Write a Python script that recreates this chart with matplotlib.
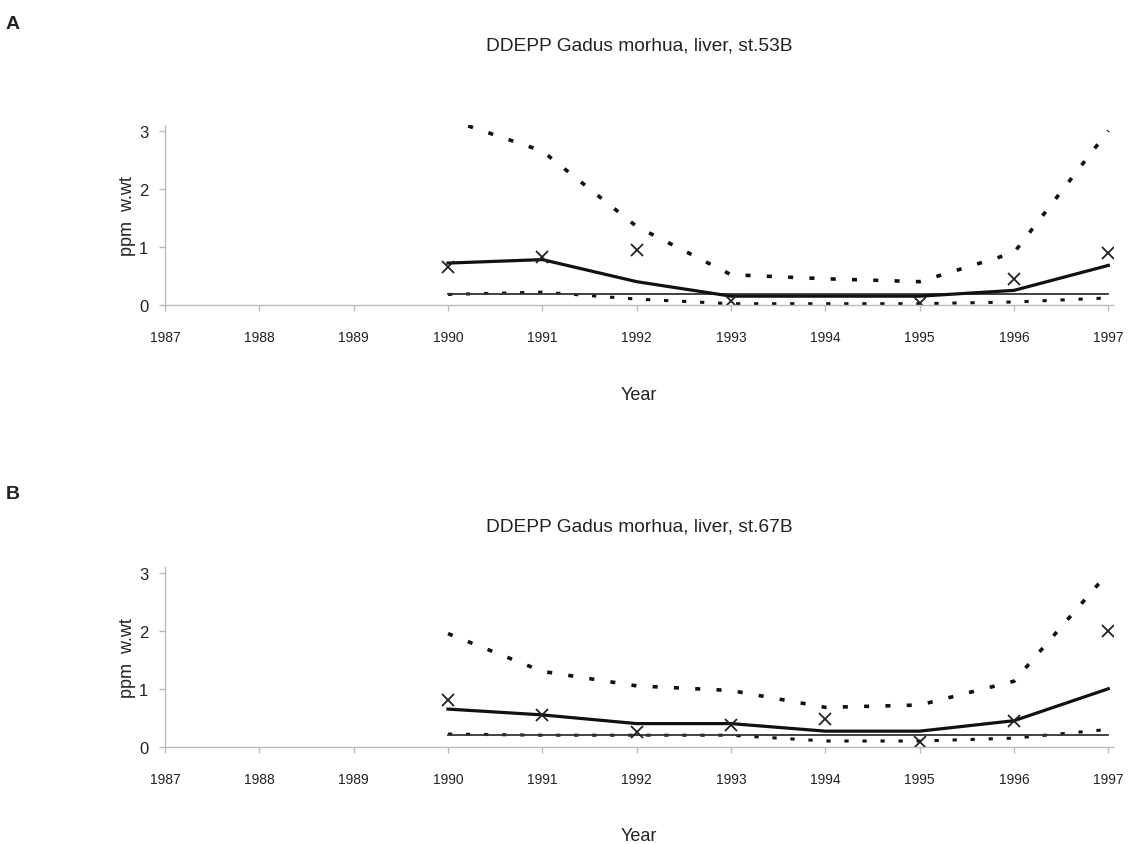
import numpy as np
import matplotlib.pyplot as plt

plt.rcParams['font.family'] = ['Liberation Sans Narrow', 'Liberation Sans', 'DejaVu Sans']

years = np.arange(1990, 1998)

# station 53B
a_obs_years = [1990, 1991, 1992, 1993, 1995, 1996, 1997]
a_obs = [0.65, 0.82, 0.95, 0.06, 0.03, 0.45, 0.90]
a_trend = [0.72, 0.78, 0.40, 0.15, 0.15, 0.15, 0.25, 0.68]
a_upper = [3.20, 2.65, 1.35, 0.52, 0.45, 0.40, 0.90, 3.00]
a_lower = [0.18, 0.22, 0.10, 0.02, 0.02, 0.02, 0.05, 0.12]
a_mean = 0.18

# station 67B
b_obs_years = [1990, 1991, 1992, 1993, 1994, 1995, 1996, 1997]
b_obs = [0.80, 0.55, 0.25, 0.38, 0.48, 0.08, 0.45, 2.00]
b_trend = [0.65, 0.55, 0.40, 0.40, 0.27, 0.27, 0.45, 1.00]
b_upper = [1.95, 1.30, 1.05, 0.97, 0.68, 0.72, 1.13, 3.00]
b_lower = [0.22, 0.20, 0.20, 0.20, 0.10, 0.10, 0.15, 0.30]
b_mean = 0.20

xticks = list(range(1987, 1998))


def draw_panel(ax, obs_years, obs, trend, upper, lower, mean, title, letter,
               title_pad, letter_y):
    ax.plot(years, upper, color='#111111', lw=2.6, ls=(0, (1.4, 4.5)))
    ax.plot(years, lower, color='#111111', lw=2.2, ls=(0, (1.4, 4.5)))
    ax.plot([1990, 1997], [mean, mean], color='#333333', lw=1.3)
    ax.plot(years, trend, color='#111111', lw=2.3)
    ax.plot(obs_years, obs, ls='none', marker='x', ms=9, mew=1.3, color='#222222')
    ax.set_xlim(1987, 1997.05)
    ax.set_ylim(0, 3.1)
    ax.set_xticks(xticks)
    ax.set_xticklabels([str(y) for y in xticks], fontsize=10)
    ax.set_yticks([0, 1, 2, 3])
    ax.set_yticklabels(['0', '1', '2', '3'], fontsize=12)
    for s in ['top', 'right']:
        ax.spines[s].set_visible(False)
    for s in ['left', 'bottom']:
        ax.spines[s].set_color('#bbbbbb')
        ax.spines[s].set_linewidth(1.0)
    ax.tick_params(colors='#bbbbbb', labelcolor='#222222', length=4, width=1)
    ax.tick_params(axis='x', pad=14)
    ax.tick_params(axis='y', pad=8)
    ax.set_xlabel('Year', fontsize=13, labelpad=30, color='#222222')
    ax.set_ylabel('ppm  w.wt', fontsize=13, labelpad=2, color='#222222')
    ax.set_title(title, fontsize=13.8, pad=title_pad, color='#222222')
    ax.text(-0.168, letter_y, letter, transform=ax.transAxes, fontsize=14,
            fontweight='bold', family='Liberation Sans', color='#222222',
            va='center')


fig = plt.figure(figsize=(11.3, 8.45), dpi=100)
ax1 = fig.add_axes([0.146, 0.638, 0.839, 0.213])
ax2 = fig.add_axes([0.146, 0.115, 0.839, 0.213])
draw_panel(ax1, a_obs_years, a_obs, a_trend, a_upper, a_lower, a_mean,
           'DDEPP Gadus morhua, liver, st.53B', 'A', 54, 1.565)
draw_panel(ax2, b_obs_years, b_obs, b_trend, b_upper, b_lower, b_mean,
           'DDEPP Gadus morhua, liver, st.67B', 'B', 26, 1.405)
fig.savefig('out.png', dpi=100)
